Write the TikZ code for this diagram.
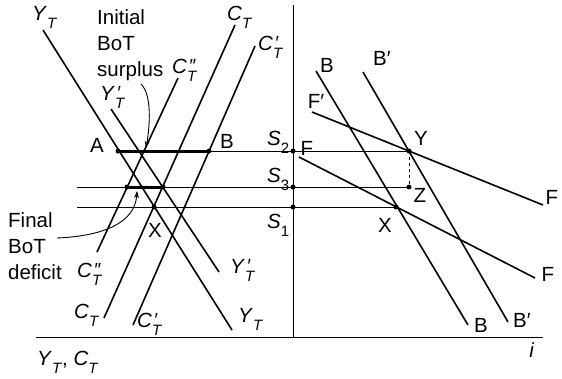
\documentclass[tikz,border=0pt]{standalone}
\usepackage{fontspec}
\setsansfont{Liberation Sans}
\usetikzlibrary{arrows.meta}
\newcommand{\crv}[3]{\textit{#1}\makebox[0pt][l]{\kern1.5pt\raisebox{0.5pt}{\fontsize{19}{19}\selectfont\textit{#2}}}\raisebox{-8pt}{\fontsize{15}{15}\selectfont\textit{#3}}}
\newcommand{\sv}[1]{\textit{S}\raisebox{-8pt}{\fontsize{15}{15}\selectfont #1}}

\begin{document}
\begin{tikzpicture}[x=1pt, y=-1pt,
        font=\sffamily\fontsize{20.5}{26}\selectfont,
        axis/.style={line width=1pt},
        curve/.style={line width=1.6pt},
        level/.style={line width=0.9pt},
        gap/.style={line width=3pt},
        dot/.style={circle, fill, inner sep=0pt, minimum size=5pt},
        lab/.style={inner sep=0pt},
        note/.style={-{Stealth[length=7pt,width=5pt]}, line width=0.9pt}
    ]
    \useasboundingbox (0,0) rectangle (562,378);

    % Axes
    \coordinate (top) at (293,5);
    \coordinate (orig) at (293,337);
    \coordinate (xl) at (36,337);
    \coordinate (xr) at (543,337);
    \draw[axis] (top) -- (orig);
    \draw[axis] (xl) -- (xr);
    \node[lab, anchor=base west] (axl) at (37,365) {\crv{Y}{}{T}, \crv{C}{}{T}};
    \node[lab] (axi) at (532,350) {\textit{i}};

    % Savings levels
    \node[dot] (A) at (118,151) {};
    \node[dot] (B) at (209,151) {};
    \node[dot] (s2) at (293,151) {};
    \node[dot] (Y) at (409,151) {};
    \coordinate (l3) at (77,187);
    \node[dot] (c3) at (127,187) {};
    \node[dot] (d3) at (163,187) {};
    \node[dot] (s3) at (293,187) {};
    \node[dot] (Z) at (409,187) {};
    \coordinate (l1) at (77,207);
    \node[dot] (Xl) at (154,207) {};
    \node[dot] (s1) at (293,207) {};
    \node[dot] (Xr) at (396,207) {};
    \draw[level] (A.center) -- (Y.center);
    \draw[level] (l3) -- (Z.center);
    \draw[level] (l1) -- (Xr.center);
    \draw[level, dashed] (Y.center) -- (Z.center);
    \draw[gap] (A.center) -- (B.center);
    \draw[gap] (c3.center) -- (d3.center);

    % Left panel curves
    \coordinate (yt1) at (43,30);   \coordinate (yt2) at (232,330);
    \coordinate (ytp1) at (111,109); \coordinate (ytp2) at (219,272);
    \coordinate (ct1) at (235,25);  \coordinate (ct2) at (104,318);
    \coordinate (ctp1) at (255,46); \coordinate (ctp2) at (133,325);
    \coordinate (ctq1) at (178,78); \coordinate (ctq2) at (97,252);
    \foreach \p in {yt, ytp, ct, ctp, ctq}
        \draw[curve] (\p1) -- (\p2);

    % Right panel curves
    \coordinate (b1) at (316,71);   \coordinate (b2) at (468,325);
    \coordinate (bp1) at (363,72);  \coordinate (bp2) at (508,322);
    \coordinate (fp1) at (312,112); \coordinate (fp2) at (543,205);
    \coordinate (f1) at (299,157);  \coordinate (f2) at (535,278);
    \foreach \p in {b, bp, fp, f}
        \draw[curve] (\p1) -- (\p2);

    % Curve labels
    \node[lab, anchor=base west] (lyt1) at (32,20) {\crv{Y}{}{T}};
    \node[lab, anchor=base west] (lytp1) at (100,100) {\crv{Y}{′}{T}};
    \node[lab, anchor=base west] (lct1) at (227,20) {\crv{C}{}{T}};
    \node[lab, anchor=base west] (lctp1) at (258,50) {\crv{C}{′}{T}};
    \node[lab, anchor=base west] (lctq1) at (172,73) {\crv{C}{″}{T}};
    \node[lab, anchor=base west] (lctq2) at (77,277) {\crv{C}{″}{T}};
    \node[lab, anchor=base west] (lct2) at (74,318) {\crv{C}{}{T}};
    \node[lab, anchor=base west] (lctp2) at (137,327) {\crv{C}{′}{T}};
    \node[lab, anchor=base west] (lytp2) at (230,273) {\crv{Y}{′}{T}};
    \node[lab, anchor=base west] (lyt2) at (238,322) {\crv{Y}{}{T}};
    \node[lab] (lb1) at (327,65) {B};
    \node[lab] (lbp1) at (382,58) {B′};
    \node[lab] (lfp1) at (316,101) {F′};
    \node[lab] (lf0) at (307,148) {F};
    \node[lab] (lfp2) at (552,197) {F};
    \node[lab] (lf2) at (548,274) {F};
    \node[lab] (lb2) at (481,325) {B};
    \node[lab] (lbp2) at (522,320) {B′};

    % Point labels
    \node[lab] (lA) at (97,145) {A};
    \node[lab] (lB) at (227,141) {B};
    \node[lab] (lXl) at (155,230) {X};
    \node[lab] (lY) at (421,138) {Y};
    \node[lab] (lZ) at (420,195) {Z};
    \node[lab] (lXr) at (385,225) {X};
    \node[lab, anchor=base west] (ls2) at (267,145) {\sv{2}};
    \node[lab, anchor=base west] (ls3) at (267,182) {\sv{3}};
    \node[lab, anchor=base west] (ls1) at (267,228) {\sv{1}};

    % Notes
    \node[lab, anchor=north west, align=left] (surplus) at (97,9) {Initial\\BoT\\surplus};
    \node[lab, anchor=north west, align=left] (deficit) at (8,212) {Final\\BoT\\deficit};
    \coordinate (sfrom) at (141,84);
    \coordinate (sto) at (146,148);
    \coordinate (dfrom) at (57,238);
    \coordinate (dto) at (137,191);
    \draw[note] (sfrom) .. controls (152,95) and (150,125) .. (sto);
    \draw[note] (dfrom) .. controls (105,236) and (135,222) .. (dto);

\end{tikzpicture}
\end{document}
